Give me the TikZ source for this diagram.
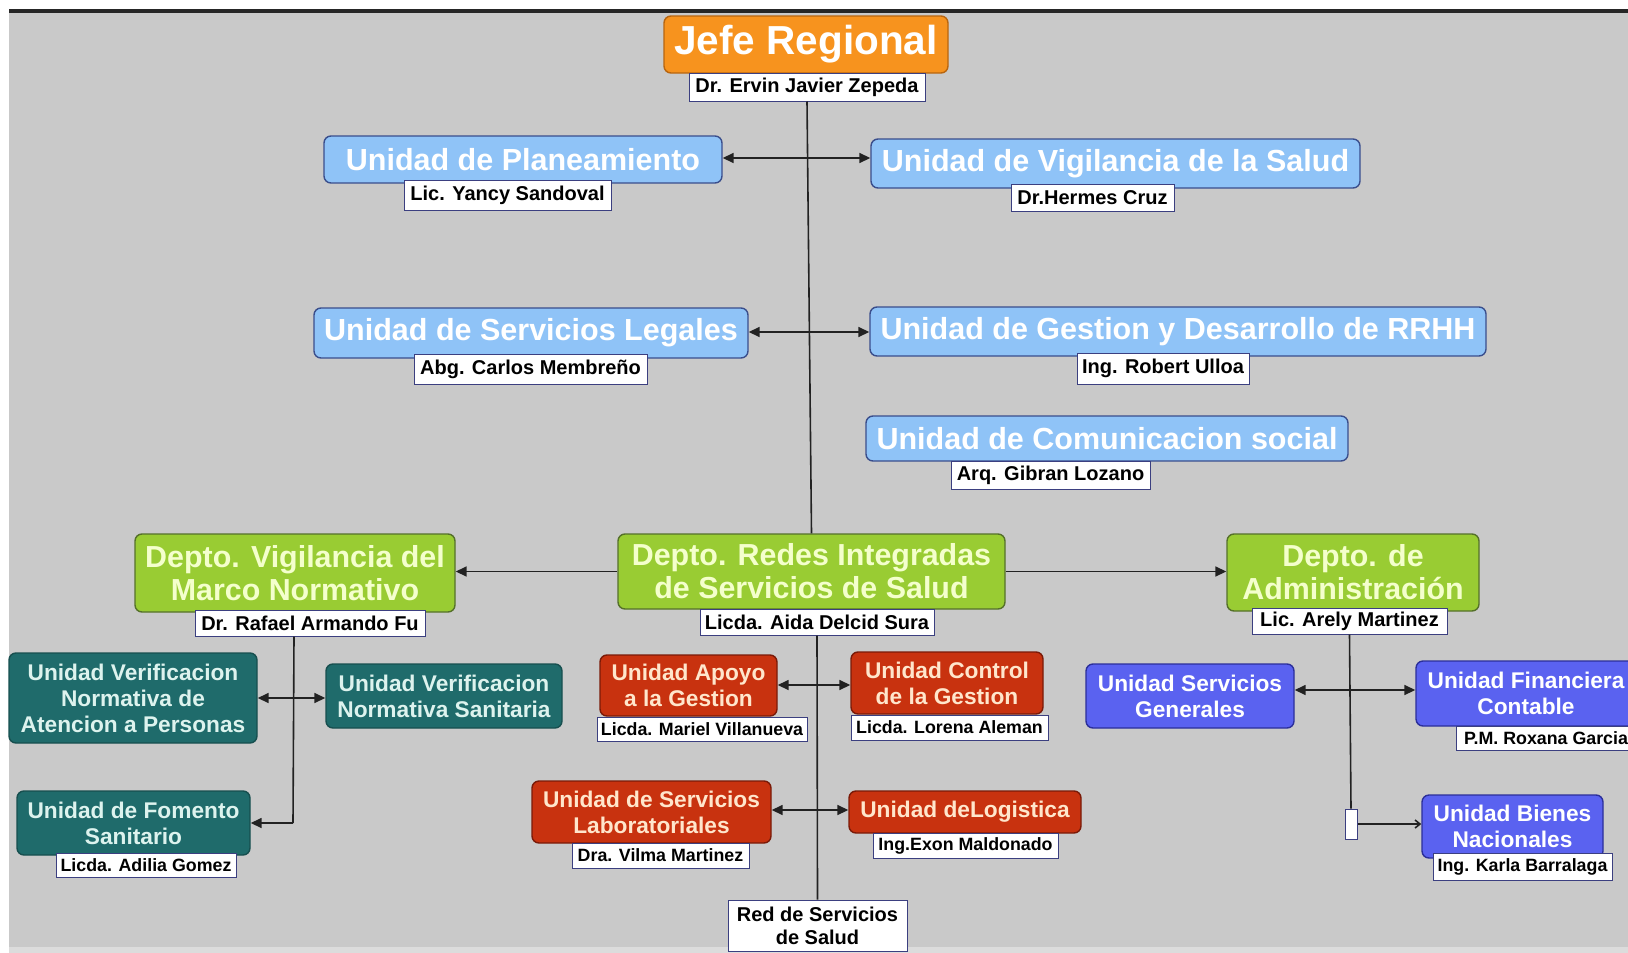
\documentclass[tikz,border=0pt]{standalone}
\usepackage{fontspec}
\setmainfont{Liberation Sans}
\usetikzlibrary{arrows.meta}
\definecolor{bgC}{HTML}{C9C9C9}
\definecolor{topC}{HTML}{262626}
\definecolor{botC}{HTML}{DCDCDC}
\definecolor{orF}{HTML}{F7931E}
\definecolor{orD}{HTML}{B8650F}
\definecolor{bluF}{HTML}{8FC3F7}
\definecolor{bluD}{HTML}{3A4E8C}
\definecolor{grnF}{HTML}{99CC33}
\definecolor{grnD}{HTML}{55702A}
\definecolor{grnT}{HTML}{F4FFCC}
\definecolor{teaF}{HTML}{1F6B6B}
\definecolor{teaD}{HTML}{174F4F}
\definecolor{teaT}{HTML}{DDF3EE}
\definecolor{redF}{HTML}{C8320F}
\definecolor{redD}{HTML}{7A1A08}
\definecolor{redT}{HTML}{FFE6CC}
\definecolor{vioF}{HTML}{5A62F0}
\definecolor{vioD}{HTML}{2B2F9A}
\definecolor{tagD}{HTML}{3B3F80}
\definecolor{lnC}{HTML}{222222}
\begin{document}
\begin{tikzpicture}[x=1pt,y=-1pt,
  box/.style={rounded corners=7pt, line width=1.4pt, inner sep=0pt, align=center},
  jefebox/.style={box, fill=orF, draw=orD, text=white, font=\fontsize{40.5}{44}\selectfont\bfseries},
  bluebox/.style={box, fill=bluF, draw=bluD, text=white, font=\fontsize{30.5}{33}\selectfont\bfseries},
  greenbox/.style={box, fill=grnF, draw=grnD, text=grnT, font=\fontsize{30.4}{33}\selectfont\bfseries},
  tealbox/.style={box, fill=teaF, draw=teaD, text=teaT, font=\fontsize{22.7}{26}\selectfont\bfseries},
  redbox/.style={box, fill=redF, draw=redD, text=redT, font=\fontsize{22.7}{26}\selectfont\bfseries},
  viobox/.style={box, fill=vioF, draw=vioD, text=white, font=\fontsize{22.7}{26}\selectfont\bfseries},
  tag/.style={fill=white, draw=tagD, line width=1pt, inner sep=0pt, align=center, text=black, font=\fontsize{20}{23}\selectfont\bfseries},
  stag/.style={tag, font=\fontsize{17.8}{20}\selectfont\bfseries},
  ln/.style={draw=lnC, line width=1.6pt},
  arr/.style={ln, -{Triangle[length=11pt,width=10pt]}},
  wh/.style={minimum width=#1},
  ht/.style={minimum height=#1}
]
\useasboundingbox (0,0) rectangle (1628,953);
\clip (0,0) rectangle (1628,953);
\fill[white] (0,0) rectangle (1628,953);
\fill[bgC] (9,13) rectangle (1628,947);
\fill[topC] (9,9) rectangle (1628,13);
\fill[botC] (9,947) rectangle (1628,953);

% top level
\node[jefebox, wh=284pt, ht=57pt] (jefe) at (806,44.5) {Jefe Regional};
\node[tag, wh=236pt, ht=28pt] (jefen) at (807,87) {Dr. Ervin Javier Zepeda};

% staff units
\node[bluebox, wh=398pt, ht=47pt] (plan) at (523,159.5) {Unidad de Planeamiento};
\node[tag, wh=207pt, ht=30pt] (plann) at (507.5,195) {Lic. Yancy Sandoval};
\node[bluebox, wh=489pt, ht=49pt] (vigs) at (1115.5,163.5) {Unidad de Vigilancia de la Salud};
\node[tag, wh=163pt, ht=27pt] (vigsn) at (1092.5,197.5) {Dr.Hermes Cruz};
\node[bluebox, wh=434pt, ht=50pt] (legal) at (531,333) {Unidad de Servicios Legales};
\node[tag, wh=233pt, ht=30pt] (legaln) at (530.5,369) {Abg. Carlos Membreño};
\node[bluebox, wh=616pt, ht=49pt] (rrhh) at (1178,331.5) {Unidad de Gestion y Desarrollo de RRHH};
\node[tag, wh=172pt, ht=31pt] (rrhhn) at (1163,368.5) {Ing. Robert Ulloa};
\node[bluebox, wh=482pt, ht=45pt] (comu) at (1107,438.5) {Unidad de Comunicacion social};
\node[tag, wh=199pt, ht=28pt] (comun) at (1050.5,475) {Arq. Gibran Lozano};

% departments
\node[greenbox, wh=320pt, ht=78pt] (dvig) at (295,573) {Depto. Vigilancia del\\Marco Normativo};
\node[tag, wh=230pt, ht=26pt] (dvign) at (310,623) {Dr. Rafael Armando Fu};
\node[greenbox, wh=387pt, ht=75pt] (redes) at (811.5,571.5) {Depto. Redes Integradas\\de Servicios de Salud};
\node[tag, wh=234pt, ht=26pt] (redesn) at (817,622) {Licda. Aida Delcid Sura};
\node[greenbox, wh=252pt, ht=77pt] (admin) at (1353,572.5) {Depto. de\\Administración};
\node[tag, wh=195pt, ht=26pt] (adminn) at (1349.5,621) {Lic. Arely Martinez};

% vigilancia units
\node[tealbox, wh=248pt, ht=90pt] (uvna) at (133,698) {Unidad Verificacion\\Normativa de\\Atencion a Personas};
\node[tealbox, wh=236pt, ht=64pt] (uvns) at (444,696) {Unidad Verificacion\\Normativa Sanitaria};
\node[tealbox, wh=233pt, ht=64pt] (fom) at (133.5,823) {Unidad de Fomento\\Sanitario};
\node[stag, wh=180pt, ht=24pt] (fomn) at (146,865) {Licda. Adilia Gomez};

% redes units
\node[redbox, wh=177pt, ht=61pt] (apoyo) at (688.5,685.5) {Unidad Apoyo\\a la Gestion};
\node[stag, wh=210pt, ht=24pt] (apoyon) at (702,729) {Licda. Mariel Villanueva};
\node[redbox, wh=192pt, ht=62pt] (ctrl) at (947,683) {Unidad Control\\de la Gestion};
\node[stag, wh=197pt, ht=25pt] (ctrln) at (949.5,727.5) {Licda. Lorena Aleman};
\node[redbox, wh=239pt, ht=62pt] (lab) at (651.5,812) {Unidad de Servicios\\Laboratoriales};
\node[stag, wh=177pt, ht=25pt] (labn) at (660.5,855.5) {Dra. Vilma Martinez};
\node[redbox, wh=232pt, ht=42pt] (logi) at (965,812) {Unidad deLogistica};
\node[stag, wh=185pt, ht=25pt] (login) at (965.5,845.5) {Ing.Exon Maldonado};
\node[tag, wh=179pt, ht=51pt] (redsv) at (817.5,925.5) {Red de Servicios\\de Salud};

% administracion units
\node[viobox, wh=208pt, ht=64pt] (sgen) at (1190,696) {Unidad Servicios\\Generales};
\node[viobox, wh=220pt, ht=65pt] (fin) at (1526,693.5) {Unidad Financiera\\Contable};
\node[stag, wh=180pt, ht=24pt] (finn) at (1546,738) {P.M. Roxana Garcia};
\node[viobox, wh=181pt, ht=63pt] (bien) at (1512.5,826.5) {Unidad Bienes\\Nacionales};
\node[stag, wh=179pt, ht=27pt] (bienn) at (1522.5,866.5) {Ing. Karla Barralaga};
\node[fill=white, draw=tagD, line width=1pt, inner sep=0pt, minimum width=12pt, minimum height=30pt] (sq) at (1351,824) {};

% connectors: main trunk
\draw[ln] (jefen.south) -- (redes.north);
\coordinate (c1) at (808,158);
\coordinate (c2) at (809.5,332);
\draw[arr] (c1) -- (c1 -| plan.east);
\draw[arr] (c1) -- (c1 -| vigs.west);
\draw[arr] (c2) -- (c2 -| legal.east);
\draw[arr] (c2) -- (c2 -| rrhh.west);
\draw[arr] (redes.west) -- (redes.west -| dvig.east);
\draw[arr] (redes.east) -- (redes.east -| admin.west);

% vigilancia trunk
\coordinate (v0) at ([xshift=-16pt]dvign.south);
\coordinate (v1) at (293.5,698);
\coordinate (v2) at (293,823);
\draw[ln] (v0) -- (v2);
\draw[arr] (v2) -- (v2 -| fom.east);
\draw[arr] (v1) -- (v1 -| uvna.east);
\draw[arr] (v1) -- (v1 -| uvns.west);

% redes trunk
\draw[ln] (redesn.south) -- (redsv.north);
\coordinate (r1) at (815,685);
\coordinate (r2) at (816,810);
\draw[arr] (r1) -- (r1 -| apoyo.east);
\draw[arr] (r1) -- (r1 -| ctrl.west);
\draw[arr] (r2) -- (r2 -| lab.east);
\draw[arr] (r2) -- (r2 -| logi.west);

% administracion trunk
\draw[ln] (adminn.south) -- (sq.north);
\coordinate (a1) at (1350.5,690);
\draw[arr] (a1) -- (a1 -| sgen.east);
\draw[arr] (a1) -- (a1 -| fin.west);
\draw[ln, -{Straight Barb[length=5pt,width=8pt]}] (sq.east) -- (sq.east -| bien.west);
\end{tikzpicture}
\end{document}
